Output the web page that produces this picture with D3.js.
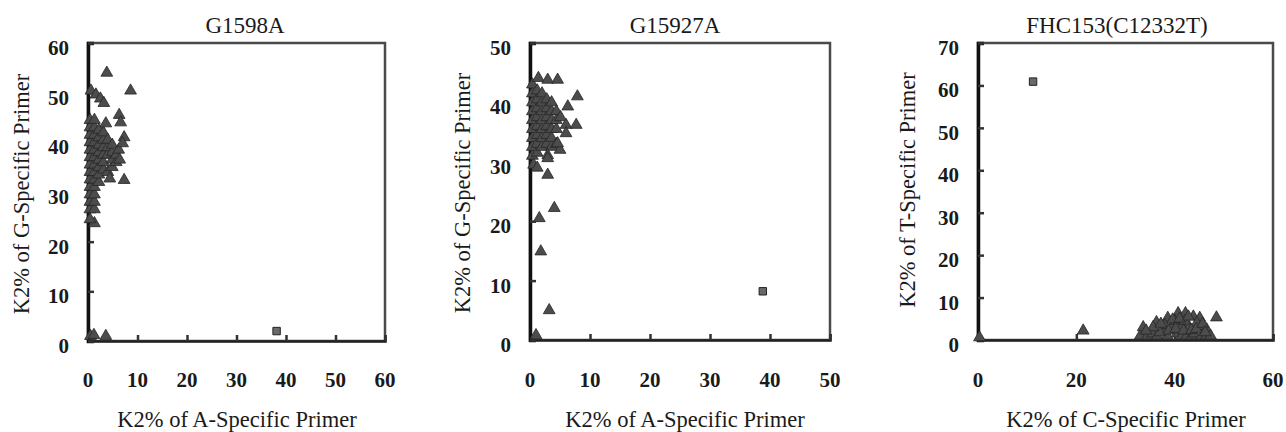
<!DOCTYPE html>
<html lang="en">
<head>
    <meta charset="UTF-8">
    <title>K2% scatter plots</title>
    <script src="https://d3js.org/d3.v7.min.js"></script>
    <style>
        body { margin: 0; background: #fff; }
    </style>
</head>
<body>
    <svg width="1286" height="432"></svg>
    <script>
        // ---- data ----
        const titles = ["G1598A", "G15927A", "FHC153(C12332T)"];
        const xTitles = ["K2% of A-Specific Primer", "K2% of A-Specific Primer", "K2% of C-Specific Primer"];
        const yTitles = ["K2% of G-Specific Primer", "K2% of G-Specific Primer", "K2% of T-Specific Primer"];

        const xTicks1 = [0, 10, 20, 30, 40, 50, 60];
        const yTicks1 = [0, 10, 20, 30, 40, 50, 60];
        const xTicks2 = [0, 10, 20, 30, 40, 50];
        const yTicks2 = [0, 10, 20, 30, 40, 50];
        const xTicks3 = [0, 20, 40, 60];
        const yTicks3 = [0, 10, 20, 30, 40, 50, 60, 70];

        // triangles (main cluster + outliers)
        const g1598aTriangles = [
            [0.4, 26.5], [0.4, 28], [0.4, 29.5], [0.4, 31], [0.4, 32.5], [0.4, 34], [0.4, 35.5], [0.4, 37], [0.4, 38.5], [0.4, 40], [0.4, 41.5], [0.4, 43], [0.4, 44.5],
            [1.3, 26.5], [1.3, 28], [1.3, 29.5], [1.3, 31], [1.3, 32.5], [1.3, 34], [1.3, 35.5], [1.3, 37], [1.3, 38.5], [1.3, 40], [1.3, 41.5], [1.3, 43], [1.3, 44.5],
            [2.2, 32], [2.2, 33.5], [2.2, 35], [2.2, 36.5], [2.2, 38], [2.2, 39.5], [2.2, 41], [2.2, 42.5],
            [3.1, 34.5], [3.1, 36], [3.1, 37.5], [3.1, 39], [3.1, 40.5], [3.1, 42],
            [4, 34], [4, 37.5], [4, 39], [4, 40.5],
            [4.9, 35], [4.9, 36.5], [4.9, 38], [4.9, 39.5],
            [5.7, 36], [5.7, 37.5], [6.2, 38.5], [6.4, 36.5],
            [3.8, 54], [8.6, 50.4], [0.6, 50.4], [1.6, 49.6], [2.5, 48.8], [3.2, 47.9],
            [6.3, 45.5], [6.6, 44], [3.6, 43.8], [7.3, 41], [7, 39.8],
            [4.4, 32.7], [7.3, 32.4], [1.3, 23.7], [0.4, 24.5],
            [0.5, 1], [1.2, 1.2], [3.6, 1]
        ];
        const g1598aSquares = [[38.1, 2]];

        const g15927aTriangles = [
            [0.4, 31], [0.4, 32.5], [0.4, 34], [0.4, 35.5], [0.4, 37], [0.4, 38.5], [0.4, 40], [0.4, 41.5], [0.4, 43],
            [1.2, 31.5], [1.2, 33], [1.2, 34.5], [1.2, 36], [1.2, 37.5], [1.2, 39], [1.2, 40.5], [1.2, 42], [1.4, 44.1],
            [2, 32.5], [2, 34], [2, 35.5], [2, 37], [2, 38.5], [2, 40], [2, 41.5],
            [2.8, 33], [2.8, 34.5], [2.8, 36], [2.8, 37.5], [2.8, 39], [2.8, 40.5],
            [3.6, 32.5], [3.6, 34], [3.6, 35.5], [3.6, 37], [3.6, 38.5], [3.6, 40],
            [4.4, 33], [4.4, 35.5], [4.4, 37], [4.4, 38.5], [5.1, 37.5], [5, 32],
            [2.95, 43.8], [4.6, 43.8], [7.9, 41], [6.3, 39.3],
            [6, 36.2], [7.7, 36.2], [6, 34.8], [4.6, 33.1], [2.95, 31.1],
            [2.95, 30.6], [0.6, 29.5], [1.2, 29], [2.95, 27.8],
            [4.05, 22.2], [1.55, 20.5], [1.8, 14.9], [3.2, 5], [1, 0.8]
        ];
        const g15927aSquares = [[38.8, 8.2]];

        const fhc153Triangles = [
            [0.3, 0.6], [21.4, 2.2],
            [33, 1], [33.6, 3], [34.5, 1], [35.5, 1.5], [36.3, 4.2], [36.5, 1], [37.5, 2.5], [38.6, 5.2], [38.5, 1],
            [39.5, 3], [40.7, 6.3], [40.5, 1.5], [41.5, 3.5], [41.5, 1], [42.2, 6.3], [42.5, 1], [43, 3], [43.5, 1],
            [43.8, 5.5], [44, 1.5], [45.1, 5.2], [45, 3], [45.5, 1], [46.5, 2.5], [46.5, 1], [47.3, 1], [48.5, 5.3],
            [38, 3.5], [40, 4.5], [42, 4.5], [44.5, 4],
            [37, 1.8], [38.8, 2.2], [39.6, 4.8], [40.2, 2.6], [41, 5], [41.8, 2.2], [42.8, 5.5], [43.4, 2.3],
            [44.4, 2.6], [45.7, 3.8], [46.2, 1.8], [35.6, 3], [34.2, 2.2], [37.2, 3.8]
        ];
        const fhc153Squares = [[11.2, 60.9]];

        // ---- layout ----
        const serif = "Liberation Serif";
        const svg = d3.select("svg");
        const panels = [
            { left: 88, right: 385, top: 43, bottom: 341, xMax: 60, yMax: 60, xTicks: xTicks1, yTicks: yTicks1,
              tri: g1598aTriangles, sq: g1598aSquares, titleX: 245, xTitleX: 237, yTitleX: 29, yTitleY: 194 },
            { left: 530, right: 830, top: 43, bottom: 340, xMax: 50, yMax: 50, xTicks: xTicks2, yTicks: yTicks2,
              tri: g15927aTriangles, sq: g15927aSquares, titleX: 675, xTitleX: 685, yTitleX: 470, yTitleY: 193 },
            { left: 978, right: 1273, top: 43, bottom: 340, xMax: 60, yMax: 70, xTicks: xTicks3, yTicks: yTicks3,
              tri: fhc153Triangles, sq: fhc153Squares, titleX: 1117, xTitleX: 1126, yTitleX: 915, yTitleY: 190 }
        ];

        const triangle = d3.symbol().type(d3.symbolTriangle).size(60);
        const square = d3.symbol().type(d3.symbolSquare).size(55);

        panels.forEach((p, i) => {
            const x = d3.scaleLinear().domain([0, p.xMax]).range([p.left, p.right]);
            const y = d3.scaleLinear().domain([0, p.yMax]).range([p.bottom, p.top]);
            const g = svg.append("g");

            // frame
            g.append("rect")
                .attr("x", p.left).attr("y", p.top)
                .attr("width", p.right - p.left).attr("height", p.bottom - p.top)
                .attr("fill", "none").attr("stroke", "#4a4a4a").attr("stroke-width", 2.5);

            // axes with inward ticks
            const xAxis = g.append("g")
                .attr("transform", `translate(0,${p.bottom})`)
                .call(d3.axisTop(x).tickValues(p.xTicks).tickSize(6).tickFormat(""));
            const yAxis = g.append("g")
                .attr("transform", `translate(${p.left},0)`)
                .call(d3.axisRight(y).tickValues(p.yTicks).tickSize(6).tickFormat(""));
            [xAxis, yAxis].forEach(a => {
                a.select(".domain").attr("stroke", "#222").attr("stroke-width", 2.5);
                a.selectAll(".tick line").attr("stroke", "#333").attr("stroke-width", 2.5);
            });
            yAxis.select(".domain").attr("stroke", "#111").attr("stroke-width", 3.5);

            // tick labels
            g.selectAll(".xl").data(p.xTicks).join("text")
                .attr("x", d => x(d)).attr("y", 387)
                .attr("text-anchor", "middle")
                .style("font-family", serif).style("font-size", "21px").style("font-weight", "bold")
                .attr("fill", "#1a1a1a")
                .text(d => d);
            g.selectAll(".yl").data(p.yTicks).join("text")
                .attr("x", p.left - 19).attr("y", d => y(d) + 12)
                .attr("text-anchor", "end")
                .style("font-family", serif).style("font-size", "21px").style("font-weight", "bold")
                .attr("fill", "#1a1a1a")
                .text(d => d);

            // titles
            g.append("text").attr("x", p.titleX).attr("y", 33)
                .attr("text-anchor", "middle")
                .style("font-family", serif).style("font-size", "23px")
                .attr("fill", "#1a1a1a")
                .text(titles[i]);
            g.append("text").attr("x", p.xTitleX).attr("y", 427)
                .attr("text-anchor", "middle")
                .style("font-family", serif).style("font-size", "22.5px")
                .attr("fill", "#1a1a1a")
                .text(xTitles[i]);
            g.append("text")
                .attr("transform", `translate(${p.yTitleX},${p.yTitleY}) rotate(-90)`)
                .attr("text-anchor", "middle")
                .style("font-family", serif).style("font-size", "22.5px")
                .attr("fill", "#1a1a1a")
                .text(yTitles[i]);

            // points
            g.selectAll(".tri").data(p.tri).join("path")
                .attr("transform", d => `translate(${x(d[0])},${y(d[1])})`)
                .attr("d", triangle)
                .attr("fill", "#4c4c4c").attr("stroke", "#262626").attr("stroke-width", 0.8);
            g.selectAll(".sq").data(p.sq).join("path")
                .attr("transform", d => `translate(${x(d[0])},${y(d[1])})`)
                .attr("d", square)
                .attr("fill", "#6a6a6a").attr("stroke", "#222").attr("stroke-width", 1);
        });
    </script>
</body>
</html>
